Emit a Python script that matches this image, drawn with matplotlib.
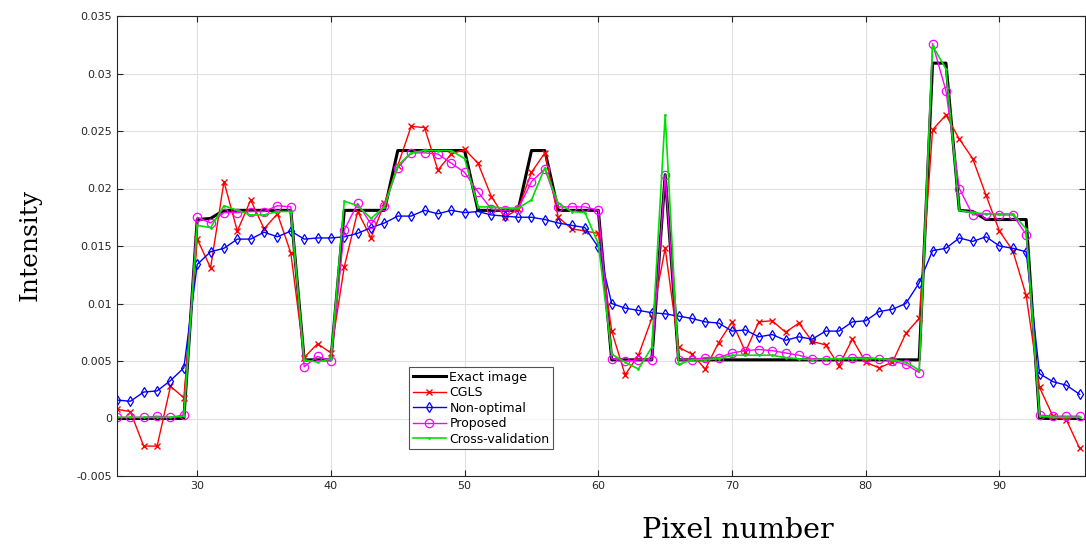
import numpy as np
import matplotlib
matplotlib.use("Agg")
import matplotlib.pyplot as plt
from matplotlib.ticker import FuncFormatter

# pixel positions
pixels = np.arange(24, 97)

exact = [0, 0, 0, 0, 0, 0,
         0.0173, 0.0174, 0.0181, 0.0181, 0.0181, 0.0181, 0.0181, 0.0181,
         0.0051, 0.0051, 0.0051,
         0.0181, 0.0181, 0.0181, 0.0181,
         0.0233, 0.0233, 0.0233, 0.0233, 0.0233, 0.0233,
         0.0181, 0.0181, 0.0181, 0.0181,
         0.0233, 0.0233,
         0.0181, 0.0181, 0.0181, 0.0181,
         0.0051, 0.0051, 0.0051, 0.0051,
         0.0212,
         0.0051, 0.0051, 0.0051, 0.0051, 0.0051, 0.0051, 0.0051, 0.0051, 0.0051, 0.0051,
         0.0051, 0.0051, 0.0051, 0.0051, 0.0051, 0.0051, 0.0051, 0.0051, 0.0051,
         0.0309, 0.0309,
         0.0181, 0.0180, 0.0173, 0.0173, 0.0173, 0.0173,
         0, 0, 0, 0]

cgls = [0.0008, 0.0006, -0.0024, -0.0024, 0.0028, 0.0018,
        0.0156, 0.0131, 0.0206, 0.0163, 0.0190, 0.0165, 0.0178, 0.0144,
        0.0053, 0.0065, 0.0057,
        0.0132, 0.0180, 0.0157, 0.0187,
        0.0220, 0.0254, 0.0253, 0.0216, 0.0230, 0.0234,
        0.0222, 0.0193, 0.0175, 0.0182,
        0.0214, 0.0231,
        0.0175, 0.0165, 0.0163, 0.0161,
        0.0076, 0.0038, 0.0055, 0.0087,
        0.0148,
        0.0062, 0.0056, 0.0043, 0.0066, 0.0084, 0.0058, 0.0084, 0.0085, 0.0075, 0.0083,
        0.0067, 0.0064, 0.0046, 0.0069, 0.0049, 0.0044, 0.0049, 0.0074, 0.0087,
        0.0251, 0.0264,
        0.0243, 0.0226, 0.0194, 0.0163, 0.0146, 0.0107,
        0.0027, 0.0002, -0.0001, -0.0026]

non_optimal = [0.0016, 0.0015, 0.0023, 0.0024, 0.0033, 0.0044,
               0.0134, 0.0145, 0.0148, 0.0156, 0.0156, 0.0162, 0.0158, 0.0163,
               0.0156, 0.0157, 0.0157,
               0.0158, 0.0161, 0.0166, 0.0170,
               0.0176, 0.0176, 0.0181, 0.0178, 0.0181, 0.0179,
               0.0180, 0.0177, 0.0176, 0.0175,
               0.0175, 0.0173,
               0.0170, 0.0168, 0.0166, 0.0149,
               0.0100, 0.0096, 0.0094, 0.0092,
               0.0091,
               0.0089, 0.0087, 0.0084, 0.0083, 0.0076, 0.0077, 0.0071, 0.0073, 0.0068, 0.0071,
               0.0069, 0.0076, 0.0076, 0.0084, 0.0085, 0.0093, 0.0095, 0.0100, 0.0118,
               0.0146, 0.0148,
               0.0157, 0.0154, 0.0158, 0.0150, 0.0148, 0.0145,
               0.0039, 0.0032, 0.0029, 0.0021]

proposed = [0.0001, 0.0001, 0.0001, 0.0002, 0.0001, 0.0003,
            0.0175, 0.0170, 0.0179, 0.0179, 0.0180, 0.0180, 0.0185, 0.0184,
            0.0045, 0.0054, 0.0050,
            0.0164, 0.0187, 0.0169, 0.0185,
            0.0218, 0.0231, 0.0231, 0.0230, 0.0222, 0.0214,
            0.0197, 0.0182, 0.0181, 0.0182,
            0.0206, 0.0217,
            0.0184, 0.0184, 0.0184, 0.0181,
            0.0052, 0.0050, 0.0051, 0.0051,
            0.0212,
            0.0051, 0.0051, 0.0053, 0.0053, 0.0057, 0.0059, 0.0060, 0.0059, 0.0057, 0.0055,
            0.0052, 0.0051, 0.0052, 0.0053, 0.0053, 0.0052, 0.0050, 0.0047, 0.0040,
            0.0326, 0.0285,
            0.0200, 0.0177, 0.0178, 0.0177, 0.0177, 0.0160,
            0.0003, 0.0002, 0.0002, 0.0002]

cross_val = [0.0001, 0.0001, 0.0001, 0.0001, 0.0001, 0.0002,
             0.0168, 0.0166, 0.0185, 0.0181, 0.0177, 0.0177, 0.0180, 0.0180,
             0.0051, 0.0049, 0.0052,
             0.0189, 0.0185, 0.0174, 0.0184,
             0.0220, 0.0231, 0.0233, 0.0233, 0.0233, 0.0226,
             0.0184, 0.0184, 0.0183, 0.0183,
             0.0190, 0.0218,
             0.0187, 0.0180, 0.0179, 0.0152,
             0.0056, 0.0049, 0.0043, 0.0062,
             0.0264,
             0.0047, 0.0051, 0.0051, 0.0052, 0.0055, 0.0055, 0.0055, 0.0055, 0.0053, 0.0052,
             0.0051, 0.0052, 0.0052, 0.0052, 0.0052, 0.0052, 0.0051, 0.0049, 0.0042,
             0.0324, 0.0304,
             0.0181, 0.0179, 0.0178, 0.0178, 0.0178, 0.0165,
             0.0002, 0.0001, 0.0001, 0.0001]

fig = plt.figure(figsize=(10.86, 5.47), dpi=100)
ax = fig.add_axes([117 / 1086, 71 / 547, 968 / 1086, 460 / 547])

ax.plot(pixels, exact, color='black', linewidth=2.2, label='Exact image')
ax.plot(pixels, cgls, color='#ff0000', linewidth=1.0, marker='x', markersize=5,
        markeredgewidth=1.0, label='CGLS')
ax.plot(pixels, non_optimal, color='#0000ff', linewidth=1.0, marker='d', markersize=5.5,
        markerfacecolor='none', markeredgewidth=0.9, label='Non-optimal')
ax.plot(pixels, proposed, color='#ff00ff', linewidth=1.0, marker='o', markersize=6,
        markerfacecolor='none', markeredgewidth=0.9, label='Proposed')
ax.plot(pixels, cross_val, color='#00e000', linewidth=1.2, marker='.', markersize=2,
        label='Cross-validation')

ax.set_xlim(24, 96.4)
ax.set_ylim(-0.005, 0.035)
ax.set_xticks([30, 40, 50, 60, 70, 80, 90])
ax.set_yticks(np.arange(-0.005, 0.0351, 0.005))
ax.yaxis.set_major_formatter(FuncFormatter(lambda v, p: '%g' % round(v, 4)))
ax.grid(True, color='#e0e0e0', linewidth=0.8)
ax.set_axisbelow(True)
ax.tick_params(direction='in', labelsize=8, labelcolor='#262626', color='#262626',
               length=4, top=True, right=True)
for s in ax.spines.values():
    s.set_color('#262626')
    s.set_linewidth(0.8)

leg = ax.legend(loc='lower left', bbox_to_anchor=(0.302, 0.058), fontsize=9,
                frameon=True, fancybox=False, edgecolor='#262626',
                borderpad=0.3, labelspacing=0.2, handlelength=2.6,
                handletextpad=0.3, borderaxespad=0)
leg.get_frame().set_linewidth(0.8)

fig.text(738 / 1086, 1 - 530 / 547, 'Pixel number', ha='center', va='center',
         fontsize=20.5, family='DejaVu Serif')
fig.text(30 / 1086, 1 - 245 / 547, 'Intensity', ha='center', va='center',
         rotation=90, fontsize=18, family='DejaVu Serif')

fig.savefig('out.png', dpi=100)
